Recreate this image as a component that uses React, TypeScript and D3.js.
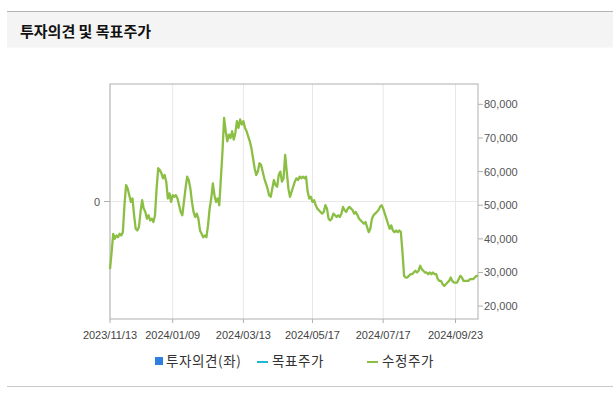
import React from "react";
import * as d3 from "d3";

const TITLE = "투자의견 및 목표주가";
const tickDates = ["2023/11/13", "2024/01/09", "2024/03/13", "2024/05/17", "2024/07/17", "2024/09/23"];
const tickIndex = [0, 39, 83, 126, 170, 215];
const priceTicks = [20000, 30000, 40000, 50000, 60000, 70000, 80000];
const opinionTicks = [0];
const legendItems = ["투자의견(좌)", "목표주가", "수정주가"];

// 수정주가 (adjusted price), thousand won, one per trading day
const priceK = [
  31, 36, 41.5, 40, 41, 40.5, 41.5, 41, 42, 50,
  56, 55, 53, 51, 52, 47, 43, 42.5, 43.5, 48,
  51.5, 49, 48, 46, 47, 45.5, 46, 45, 47, 55,
  61, 60.5, 59.5, 58, 59, 57, 52, 53.5, 51, 53,
  52.5, 53, 52, 50, 48, 47, 51, 55, 58.5, 57.5,
  55, 51, 48, 46.5, 47.5, 46, 42.5, 41.5, 40.5, 41,
  40.5, 44, 49, 52, 56.5, 53, 51, 52, 50, 58,
  66, 76, 72, 69, 71, 70, 72, 69.5, 71.5, 75,
  73, 75.5, 74, 75, 73, 72, 70.5, 69, 67, 64,
  61, 59, 60, 62.5, 62, 60, 58, 56.5, 55, 53,
  52.5, 55, 57.5, 56, 55.5, 59, 60, 57, 58, 65,
  60, 55, 52.5, 54, 55.5, 57, 58, 57.5, 58.5, 58,
  58.5, 58, 58.5, 54, 52, 52.5, 51, 51.5, 50, 49,
  48.5, 48, 47.5, 48, 50, 49, 46, 45.5, 46, 47.5,
  47, 46.5, 47, 46.5, 47.5, 49.5, 48.5, 48, 49, 49.5,
  49, 48.5, 47.5, 48, 47, 46, 45.5, 45, 44.5, 45,
  43.5, 42, 43, 46, 47, 47.5, 48, 48.5, 49.5, 50,
  49, 47.5, 46, 44.5, 43, 44, 42.5, 42, 42.5, 42,
  42.5, 42, 36, 29, 28.5, 28.5, 29, 29.5, 29.5, 30,
  30.5, 30, 30.5, 32, 31, 30.5, 30, 30, 29.5, 30,
  29.5, 30, 29.5, 29.5, 28, 27.5, 27.5, 26.5, 26, 26.5,
  27, 27.5, 28.5, 27.5, 27, 27, 27, 28, 29, 28.5,
  27.5, 27.5, 27.5, 27.5, 28, 28, 28, 28.5, 29, 29,
];
const price = priceK.map((v) => v * 1000);

const W = 613;
const H = 396;
const plot = { left: 110, right: 478, top: 84, bottom: 319 };
const FONT = "'Liberation Sans', Arial, sans-serif";
const KFONT = "'Noto Sans CJK KR', 'Noto Sans', sans-serif";

export default function App() {
  const x = d3.scaleLinear().domain([0, price.length - 1]).range([plot.left, plot.right]);
  const y = d3.scaleLinear().domain([16170, 86050]).range([plot.bottom, plot.top]);
  const yl = d3.scaleLinear().domain([-1, 1]).range([plot.bottom, plot.top]);
  const line = d3
    .line<number>()
    .x((_, i) => x(i))
    .y((d) => y(d));
  const fmt = d3.format(",");

  return (
    <svg
      width={W}
      height={H}
      style={{ position: "absolute", left: 0, top: 0, background: "#fff" }}
    >
      {/* header */}
      <rect x={7} y={12} width={W - 7} height={35.5} fill="#f4f4f4" />
      <line x1={7} x2={W} y1={11.5} y2={11.5} stroke="#b4b4b4" strokeWidth={1} />
      <text x={20} y={37} fontFamily={KFONT} fontSize={15} fontWeight={700} fill="#111">
        {TITLE}
      </text>

      {/* grid */}
      {tickIndex.map((t, i) => (
        <line key={"vg" + i} x1={x(t)} x2={x(t)} y1={plot.top} y2={plot.bottom} stroke="#e8e8e8" />
      ))}
      {opinionTicks.map((t) => (
        <line key={"hg" + t} x1={plot.left} x2={plot.right} y1={yl(t)} y2={yl(t)} stroke="#e8e8e8" />
      ))}

      {/* frame */}
      <rect
        x={plot.left}
        y={plot.top}
        width={plot.right - plot.left}
        height={plot.bottom - plot.top}
        fill="none"
        stroke="#b0b0b0"
      />

      {/* price line */}
      <path d={line(price) || ""} fill="none" stroke="#8bbf44" strokeWidth={2.3} strokeLinejoin="round" />

      {/* right axis */}
      {priceTicks.map((t) => (
        <g key={"rt" + t}>
          <line x1={plot.right} x2={plot.right + 5} y1={y(t)} y2={y(t)} stroke="#b0b0b0" />
          <text x={plot.right + 6} y={y(t) + 4} fontFamily={FONT} fontSize={11} fill="#555">
            {fmt(t)}
          </text>
        </g>
      ))}

      {/* left axis */}
      {opinionTicks.map((t) => (
        <g key={"lt" + t}>
          <line x1={plot.left - 6} x2={plot.left} y1={yl(t)} y2={yl(t)} stroke="#b0b0b0" />
          <text x={plot.left - 10} y={yl(t) + 4} textAnchor="end" fontFamily={FONT} fontSize={11} fill="#555">
            {t}
          </text>
        </g>
      ))}

      {/* bottom axis labels */}
      {tickIndex.map((t, i) => (
        <g key={"bt" + i}>
          <line x1={x(t)} x2={x(t)} y1={plot.bottom} y2={plot.bottom + 4} stroke="#b0b0b0" />
          <text x={x(t)} y={339} textAnchor="middle" fontFamily={FONT} fontSize={11} fill="#444">
            {tickDates[i]}
          </text>
        </g>
      ))}

      {/* legend */}
      <rect x={155} y={357} width={8} height={8} fill="#2f7fe0" />
      <text x={166} y={366} fontFamily={KFONT} fontSize={13.5} letterSpacing={0.6} fill="#333">
        {legendItems[0]}
      </text>
      <line x1={257} x2={268} y1={362} y2={362} stroke="#1db9d3" strokeWidth={2} />
      <text x={272} y={366} fontFamily={KFONT} fontSize={13.5} letterSpacing={0.6} fill="#333">
        {legendItems[1]}
      </text>
      <line x1={367} x2={378} y1={362} y2={362} stroke="#8bbf44" strokeWidth={2} />
      <text x={382} y={366} fontFamily={KFONT} fontSize={13.5} letterSpacing={0.6} fill="#333">
        {legendItems[2]}
      </text>

      <line x1={7} x2={W} y1={386.5} y2={386.5} stroke="#c8c8c8" />
    </svg>
  );
}
